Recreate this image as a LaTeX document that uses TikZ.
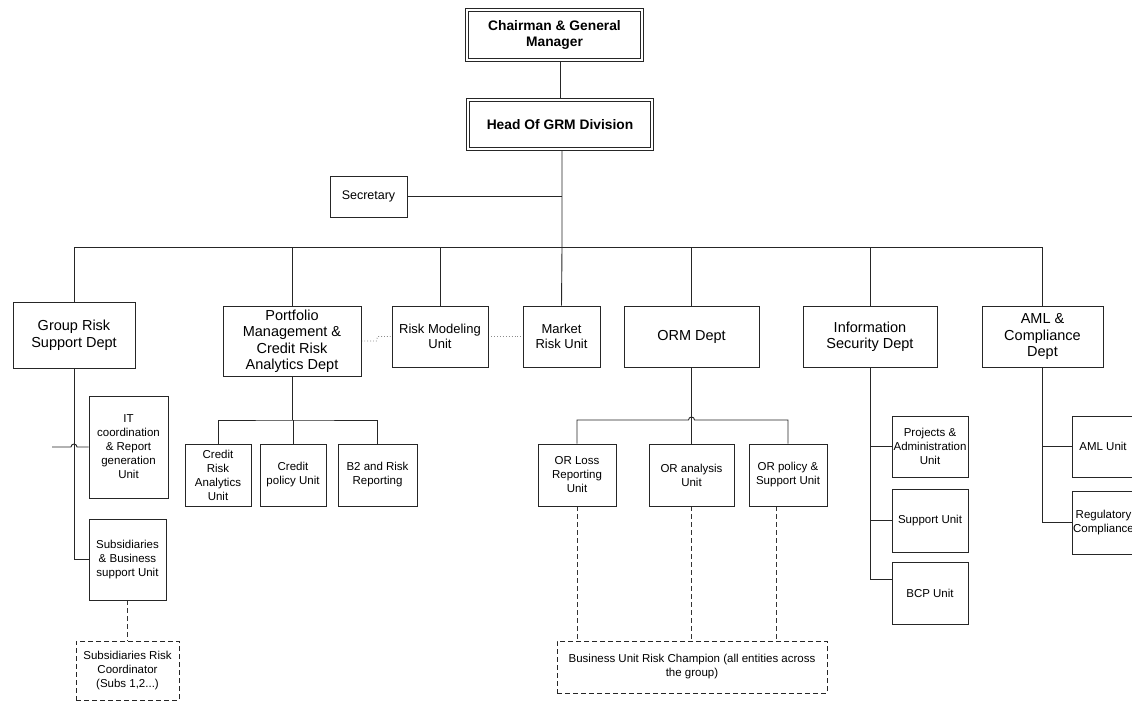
\documentclass[tikz,border=0pt]{standalone}
\usepackage{fontspec}
\setmainfont{Liberation Sans}
\pgfdeclarelayer{back}
\pgfdeclarelayer{wires}
\pgfsetlayers{back,wires,main}
\begin{document}
\begin{tikzpicture}[x=1pt,y=-1pt,
  box/.style={draw=black!85, line width=0.8pt, fill=white, inner sep=1pt, align=center, anchor=center},
  unitf/.style={font=\fontsize{11.5}{14}\selectfont},
  deptf/.style={font=\fontsize{14.5}{16.5}\selectfont},
  midf/.style={font=\fontsize{13}{15.5}\selectfont},
  topbox/.style={draw=black!85, double=white, double distance=2.2pt, line width=0.8pt, fill=white, align=center, inner sep=1pt, font=\bfseries\fontsize{13.8}{16.5}\selectfont},
  wire/.style={draw=black!85, line width=0.9pt},
  dashwire/.style={draw=black!80, line width=0.9pt, dash pattern=on 5pt off 3pt},
  dotwire/.style={draw=black!45, line width=0.9pt, dotted},
  dashbox/.style={box, dash pattern=on 5pt off 3pt},
]
\useasboundingbox (0,0) rectangle (1132,702);
\clip (0,0) rectangle (1132,702);
\begin{pgfonlayer}{back}
\fill[white] (0,0) rectangle (1132,702);
\end{pgfonlayer}

% top
\node[topbox, minimum width=175pt, minimum height=50pt] (chair) at (554.5,35) {Chairman \& General\\Manager};
\node[topbox, minimum width=184pt, minimum height=49pt] (head) at (560,124.5) {Head Of GRM Division};
\node[box, font=\fontsize{12.5}{15}\selectfont, minimum width=77pt, minimum height=41pt] (sec) at (368.5,196.5) {Secretary};

% level 2
\node[box, deptf, minimum width=122pt, minimum height=66pt] (grs) at (74,335) {Group Risk\\Support Dept};
\node[box, deptf, minimum width=138pt, minimum height=70pt] (pm) at (292,341) {Portfolio\\Management \&\\Credit Risk\\Analytics Dept};
\node[box, midf, minimum width=96pt, minimum height=61pt] (rmu) at (440,336.5) {Risk Modeling\\Unit};
\node[box, midf, minimum width=77pt, minimum height=61pt] (mkt) at (561.5,336.5) {Market\\Risk Unit};
\node[box, deptf, minimum width=135pt, minimum height=61pt] (orm) at (691.5,336.5) {ORM Dept};
\node[box, deptf, minimum width=134pt, minimum height=61pt] (isd) at (870,336.5) {Information\\Security Dept};
\node[box, deptf, minimum width=121pt, minimum height=61pt] (aml) at (1042.5,336.5) {AML \&\\Compliance\\Dept};

% group risk children
\node[box, unitf, minimum width=79pt, minimum height=102pt] (itc) at (128.5,447) {IT\\coordination\\\& Report\\generation\\Unit};
\node[box, unitf, minimum width=77pt, minimum height=81pt] (sbu) at (127.5,559.5) {Subsidiaries\\\& Business\\support Unit};
\node[dashbox, unitf, minimum width=103pt, minimum height=59pt] (src) at (127.5,670.5) {Subsidiaries Risk\\Coordinator\\(Subs 1,2...)};

% portfolio children
\node[box, unitf, minimum width=66pt, minimum height=62pt] (cra) at (218,475) {Credit\\Risk\\Analytics\\Unit};
\node[box, unitf, minimum width=66pt, minimum height=62pt] (cpu) at (293,475) {Credit\\policy Unit};
\node[box, unitf, minimum width=79pt, minimum height=62pt] (b2) at (377.5,475) {B2 and Risk\\Reporting};

% ORM children
\node[box, unitf, minimum width=78pt, minimum height=62pt] (orl) at (577,475) {OR Loss\\Reporting\\Unit};
\node[box, unitf, minimum width=85pt, minimum height=62pt] (ora) at (691.5,475) {OR analysis\\Unit};
\node[box, unitf, minimum width=78pt, minimum height=62pt] (orp) at (788,475) {OR policy \&\\Support Unit};
\node[dashbox, unitf, minimum width=270pt, minimum height=52pt] (buc) at (692,667) {Business Unit Risk Champion (all entities across\\the group)};

% Info security children
\node[box, unitf, minimum width=76pt, minimum height=61pt] (pau) at (930,446.5) {Projects \&\\Administration\\Unit};
\node[box, unitf, minimum width=76pt, minimum height=63pt] (su) at (930,520.5) {Support Unit};
\node[box, unitf, minimum width=76pt, minimum height=62pt] (bcp) at (930,593) {BCP Unit};

% AML children
\node[box, unitf, minimum width=62pt, minimum height=61pt] (amlu) at (1103,446.5) {AML Unit};
\node[box, unitf, minimum width=61pt, minimum height=63pt] (regc) at (1103.5,522.5) {Regulatory\\Compliance};

% coordinates
\coordinate (trunk) at (562,247);
\coordinate (pmbus) at (292,420);
\coordinate (ormbus) at (691.5,420);
\coordinate (itl) at (52,447);
\coordinate (orpd) at ([xshift=-12pt]orp.south);
\coordinate (bcpl) at ([yshift=14pt]bcp.west);

\begin{pgfonlayer}{wires}
\draw[wire] (chair.south -| head.north) -- (head.north);
\draw[wire] (head.south -| trunk) -- (trunk) -- (mkt.north);
\draw[wire] (sec.east) -- (sec.east -| trunk);
\draw[wire] (grs.north) -- (grs.north |- trunk) -- (aml.north |- trunk) -- (aml.north);
\draw[wire] (pm.north) -- (pm.north |- trunk);
\draw[wire] (rmu.north) -- (rmu.north |- trunk);
\draw[wire] (orm.north) -- (orm.north |- trunk);
\draw[wire] (isd.north) -- (isd.north |- trunk);

\draw[dotwire] (pm.east) -- ++(15,0) -- ([xshift=-14pt]rmu.west) -- (rmu.west);
\draw[dotwire] (rmu.east) -- (mkt.west);

% group risk
\draw[wire] (grs.south) -- (grs.south |- sbu.west) -- (sbu.west);
\draw[wire] (itl) -- (71,447) arc[start angle=180, end angle=360, radius=3] -- (itc.west);
\draw[dashwire] (sbu.south) -- (src.north);

% portfolio
\draw[wire] (pm.south) -- (pmbus);
\draw[wire] (cra.north) |- (pmbus) -| (b2.north);
\draw[wire] (cpu.north) -- (cpu.north |- pmbus);

% ORM
\draw[wire] (orm.south) -- (ora.north);
\draw[wire] (orl.north) -- (orl.north |- ormbus) -- (688.5,420) arc[start angle=180, end angle=360, radius=3] -- (orp.north |- ormbus) -- (orp.north);
\draw[dashwire] (orl.south) -- (orl.south |- buc.north);
\draw[dashwire] (ora.south) -- (ora.south |- buc.north);
\draw[dashwire] (orpd) -- (orpd |- buc.north);

% info sec
\draw[wire] (isd.south) -- (isd.south |- bcpl) -- (bcpl);
\draw[wire] (isd.south |- pau.west) -- (pau.west);
\draw[wire] (isd.south |- su.west) -- (su.west);

% AML
\draw[wire] (aml.south) -- (aml.south |- regc.west) -- (regc.west);
\draw[wire] (aml.south |- amlu.west) -- (amlu.west);
\end{pgfonlayer}
\end{tikzpicture}
\end{document}
